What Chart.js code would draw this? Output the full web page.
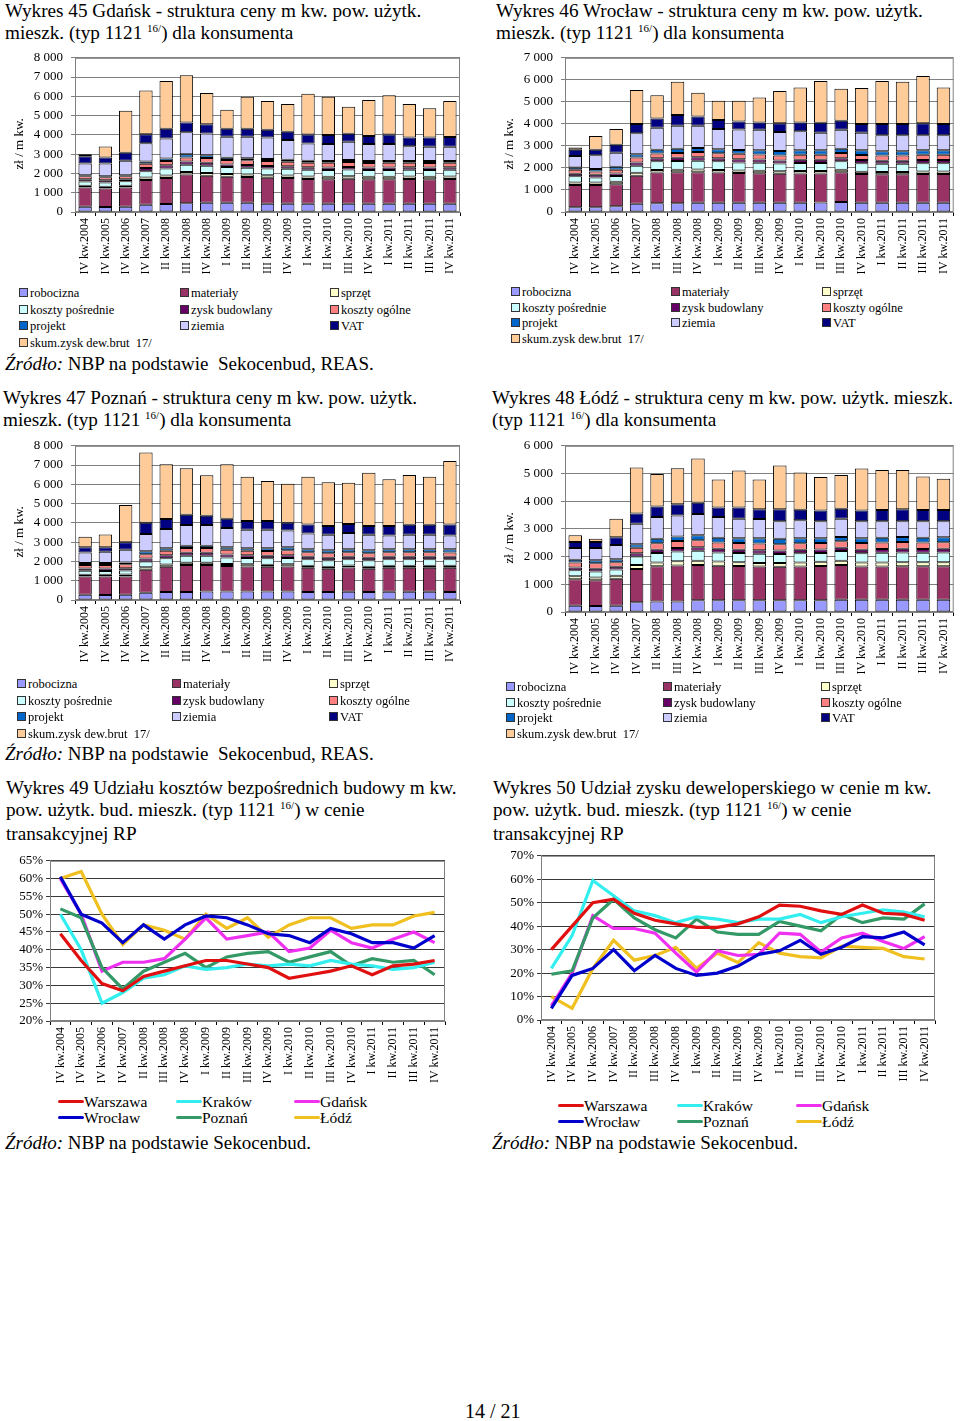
<!DOCTYPE html>
<html lang="pl">
<head>
<meta charset="utf-8">
<script src="https://cdn.jsdelivr.net/npm/chart.js@4/dist/chart.umd.min.js"></script>
<style>
body { margin:0; width:960px; height:1421px; background:#fff; position:relative; overflow:hidden;
       font-family:"Liberation Serif","Times New Roman",serif; color:#000; }
.abs { position:absolute; }
.title { font-size:19.2px; line-height:21.5px; white-space:nowrap; }
.title sup { font-size:11px; vertical-align:0; position:relative; top:-7px; }
.source { font-size:19px; white-space:nowrap; }
.legend { font-size:12.5px; white-space:nowrap; }
.legend .item { line-height:16px; }
.legend .sw { display:inline-block; width:7px; height:7px; border:1px solid #333; margin-right:2px; vertical-align:0; }
.llegend { font-size:15.5px; white-space:nowrap; }
.llegend .item { line-height:16px; }
.llegend .ln { display:inline-block; width:26px; height:3px; border-radius:1.5px; vertical-align:4px; }
canvas { position:absolute; }
</style>
</head>
<body>

<div class="abs title" style="left:5px;top:0px">Wykres 45 Gdańsk - struktura ceny m kw. pow. użytk.<br>mieszk. (typ 1121 <sup>16/</sup>) dla konsumenta</div>
<div class="abs title" style="left:496px;top:0px">Wykres 46 Wrocław - struktura ceny m kw. pow. użytk.<br>mieszk. (typ 1121 <sup>16/</sup>) dla konsumenta</div>
<div class="abs title" style="left:3px;top:387px">Wykres 47 Poznań - struktura ceny m kw. pow. użytk.<br>mieszk. (typ 1121 <sup>16/</sup>) dla konsumenta</div>
<div class="abs title" style="left:492px;top:387px">Wykres 48 Łódź - struktura ceny m kw. pow. użytk. mieszk.<br>(typ 1121 <sup>16/</sup>) dla konsumenta</div>
<div class="abs title" style="left:6px;top:777px">Wykres 49 Udziału kosztów bezpośrednich budowy m kw.<br>pow. użytk. bud. mieszk. (typ 1121 <sup>16/</sup>) w cenie<br>transakcyjnej RP</div>
<div class="abs title" style="left:493px;top:777px">Wykres 50 Udział zysku deweloperskiego w cenie m kw.<br>pow. użytk. bud. mieszk. (typ 1121 <sup>16/</sup>) w cenie<br>transakcyjnej RP</div>

<canvas id="c45" width="470" height="238" style="left:0px;top:42px"></canvas>
<canvas id="c46" width="470" height="238" style="left:490px;top:42px"></canvas>
<canvas id="c47" width="470" height="238" style="left:0px;top:430px"></canvas>
<canvas id="c48" width="470" height="250" style="left:490px;top:430px"></canvas>
<canvas id="c49" width="470" height="239" style="left:0px;top:850px"></canvas>
<canvas id="c50" width="470" height="243" style="left:490px;top:845px"></canvas>

<div class="abs source" style="left:5px;top:353px"><i>Źródło:</i> NBP na podstawie&nbsp; Sekocenbud, REAS.</div>
<div class="abs source" style="left:5px;top:743px"><i>Źródło:</i> NBP na podstawie&nbsp; Sekocenbud, REAS.</div>
<div class="abs source" style="left:5px;top:1132px"><i>Źródło:</i> NBP na podstawie Sekocenbud.</div>
<div class="abs source" style="left:492px;top:1132px"><i>Źródło:</i> NBP na podstawie Sekocenbud.</div>
<div class="abs source" style="left:465px;top:1400px;font-size:20px">14 / 21</div>

<script>
// categories (quarters)
const categories = ['IV kw.2004', 'IV kw.2005', 'IV kw.2006', 'IV kw.2007', 'II kw.2008', 'III kw.2008',
  'IV kw.2008', 'I kw.2009', 'II kw.2009', 'III kw.2009', 'IV kw.2009', 'I kw.2010', 'II kw.2010',
  'III kw.2010', 'IV kw.2010', 'I kw.2011', 'II kw.2011', 'III kw.2011', 'IV kw.2011'];

const costNames = ['robocizna', 'materiały', 'sprzęt', 'koszty pośrednie', 'zysk budowlany',
  'koszty ogólne', 'projekt', 'ziemia', 'VAT', 'skum.zysk dew.brut \u00a017/'];
const costColors = ['#9999FF', '#993366', '#FFFFCC', '#CCFFFF', '#660066',
  '#FF8080', '#0066CC', '#CCCCFF', '#000080', '#FFCC99'];

// Wykres 45 Gdańsk (zł / m kw.)
const gdRobocizna = [270,260,270,380,420,460,480,480,480,430,430,430,430,430,430,430,430,430,430];
const gdMaterialy = [1000,960,1000,1275,1350,1490,1400,1350,1330,1350,1340,1280,1270,1300,1270,1270,1280,1270,1280];
const gdSprzet = [90,90,90,135,130,120,140,140,130,130,130,130,130,130,130,130,130,130,130];
const gdKosztyPosr = [220,220,230,330,360,380,380,360,360,350,350,350,350,350,350,350,350,350,350];
const gdZysk = [120,120,110,165,160,165,160,140,140,130,130,130,130,130,130,130,130,130,130];
const gdKosztyOg = [150,150,150,215,220,215,240,230,240,250,230,240,240,250,230,240,230,230,230];
const gdProjekt = [60,60,60,115,140,170,150,120,110,110,100,100,100,110,100,100,100,100,100];
const gdZiemia = [600,650,750,950,1030,1140,1120,1090,1120,1110,1030,900,880,940,890,880,760,750,740];
const gdVat = [380,320,420,470,510,500,480,410,410,410,420,460,460,420,410,490,450,470,500];
const gdSkum = [110,570,2170,2270,2470,2450,1630,980,1660,1490,1440,2110,1990,1400,1870,2040,1740,1520,1870];

// Wykres 46 Wrocław
const wrRobocizna = [220,220,260,370,400,400,420,420,420,420,420,420,430,450,420,420,420,420,420];
const wrMaterialy = [1010,1010,1000,1280,1390,1400,1390,1370,1350,1340,1320,1330,1320,1350,1300,1290,1290,1310,1310];
const wrSprzet = [110,110,110,130,120,120,120,120,110,110,110,110,110,120,110,110,110,110,110];
const wrKosztyPosr = [280,230,260,320,390,390,400,390,370,370,350,370,370,380,380,370,370,370,370];
const wrZysk = [120,120,120,150,140,150,150,140,150,140,140,140,140,140,150,140,140,150,150];
const wrKosztyOg = [180,150,170,220,220,220,240,230,240,230,230,230,230,240,230,230,230,240,240];
const wrProjekt = [100,110,130,150,170,190,180,180,180,190,200,200,200,190,210,200,200,200,200];
const wrZiemia = [520,630,640,960,990,1050,1020,920,920,930,860,870,800,860,800,720,720,680,680];
const wrVat = [290,250,360,410,430,480,420,410,370,330,400,390,450,410,390,510,510,550,510];
const wrSkum = [100,620,720,1550,1050,1510,1070,870,940,1140,1460,1590,1900,1450,1640,1960,1920,2140,1660];

// Wykres 47 Poznań
const pzRobocizna = [270,260,270,370,420,420,440,440,440,440,440,420,420,430,420,430,430,430,420];
const pzMaterialy = [950,960,950,1200,1300,1400,1380,1320,1300,1280,1300,1250,1200,1250,1200,1240,1240,1240,1250];
const pzSprzet = [90,90,100,130,120,110,110,110,110,110,110,110,110,110,110,110,110,110,110];
const pzKosztyPosr = [210,200,210,300,330,370,370,340,330,330,330,330,330,330,330,330,330,330,330];
const pzZysk = [120,120,120,150,150,150,150,150,140,140,140,130,130,130,130,130,130,130,130];
const pzKosztyOg = [180,190,200,230,240,250,250,250,240,240,260,240,230,230,230,240,240,240,230];
const pzProjekt = [100,100,100,150,130,120,120,130,130,150,160,150,160,150,160,150,150,150,160];
const pzZiemia = [540,580,660,900,990,1070,1070,990,960,960,860,820,800,850,800,720,750,750,720];
const pzVat = [280,240,380,580,520,530,480,490,450,450,410,470,460,460,460,490,530,530,570];
const pzSkum = [540,660,1940,3640,2840,2410,2100,2820,2290,2070,2020,2470,2270,2140,2760,2430,2580,2490,3290];

// Wykres 48 Łódź
const ldRobocizna = [230,220,230,350,380,380,420,420,420,420,420,420,420,440,440,440,440,440,440];
const ldMaterialy = [950,930,970,1200,1270,1300,1280,1250,1240,1220,1210,1220,1240,1260,1200,1200,1210,1210,1210];
const ldSprzet = [110,100,110,150,140,150,150,150,140,130,140,150,150,150,150,150,150,150,150];
const ldKosztyPosr = [220,210,220,300,340,350,360,330,330,330,320,330,320,350,330,350,350,340,350];
const ldZysk = [100,100,100,120,120,130,130,130,120,130,130,130,130,120,130,130,130,130,130];
const ldKosztyOg = [180,200,170,200,230,250,250,230,240,240,230,230,230,230,240,240,250,240,240];
const ldProjekt = [100,110,100,130,160,170,180,170,170,190,190,180,170,160,170,170,180,170,180];
const ldZiemia = [420,440,520,740,790,750,770,750,710,700,640,650,620,660,620,600,570,600,580];
const ldVat = [220,220,280,370,380,410,400,340,400,350,430,380,380,360,380,400,430,400,400];
const ldSkum = [240,110,670,1660,1170,1300,1600,1010,1340,1070,1580,1350,1210,1220,1520,1450,1420,1210,1130];

// Wykres 49 udział kosztów bezpośrednich (%)
const w49Warszawa = [44.5,37,30.5,28.5,32.5,34,35.5,37,37,36,35,32,33,34,35.5,33,35.5,36,37];
const w49Wroclaw = [60.5,50,47.5,42,47,43,47,49.5,49,47,44.5,44,42,46,44.5,42,42,40.5,44];
const w49Krakow = [50,40,25,28,32,33,35.5,34.5,35,36,35.5,36,35.5,37,36,35.5,34.5,35,36.5];
const w49Poznan = [51.5,49,35,29,34,36.5,39,35,38,39,39.5,36.5,38,39.5,35.5,37.5,36.5,37,33];
const w49Gdansk = [60,50,34,36.5,36.5,37.5,43,49,43,44,45,39.5,40.5,45.5,42,40.5,43,45,42];
const w49Lodz = [60,62,50,41.5,47,45.5,43,50,46,49,43.5,47,49,49,46,47,47,49.5,50.5];

// Wykres 50 udział zysku deweloperskiego (%)
const w50Warszawa = [30,40,50,51.5,45.5,42.5,41,39.5,39.5,41,44,49,48.5,46.5,45,49,45.5,45,42.5];
const w50Wroclaw = [5,19,22,30,21,27.5,22,19,20,23,28,29.5,34,28,31,35.5,35,37.5,32];
const w50Krakow = [22,36,59.5,53,46.5,44.5,41.5,44,43,41.5,43,43,45,41.5,44,45.5,47,46,44];
const w50Poznan = [19.5,21,43.5,51.5,43.5,38.5,35,43,37.5,36.5,36.5,42,40,38,45,41.5,43.5,43,49.5];
const w50Gdansk = [6,20,44.5,39,39,37,28.5,20.5,29.5,27.5,28,37,36.5,29,35,37,33.5,30.5,35.5];
const w50Lodz = [10,5,22,34,25.5,27.5,31,22,28.5,24.5,33,28.5,27,26.5,31.5,31,30.5,27,26];

const cityNames = ['Warszawa', 'Wrocław', 'Kraków', 'Poznań', 'Gdańsk', 'Łódź'];
const cityColors = ['#E01010', '#0000CC', '#33EEEE', '#339966', '#F030F0', '#F0C020'];

const serif = '"Liberation Serif", "Times New Roman", serif';
Chart.defaults.font.family = serif;
Chart.defaults.color = '#000';

// gray frame around the plot area
const frame = {
  id: 'frame',
  beforeDatasetsDraw(chart) {
    const { ctx, chartArea: a } = chart;
    ctx.save();
    ctx.strokeStyle = '#808080';
    ctx.lineWidth = 1;
    ctx.strokeRect(a.left + 0.5, a.top + 0.5, a.right - a.left - 1, a.bottom - a.top - 1);
    ctx.restore();
  }
};

// y axis title, placed a bit below the middle as in the original
const yTitle = {
  id: 'yTitle',
  afterDraw(chart, args, opts) {
    if (!opts.text) return;
    const { ctx, chartArea: a } = chart;
    ctx.save();
    ctx.translate(20, (a.top + a.bottom) / 2 + 9);
    ctx.rotate(-Math.PI / 2);
    ctx.font = '13px ' + serif;
    ctx.fillStyle = '#000';
    ctx.textAlign = 'center';
    ctx.textBaseline = 'middle';
    ctx.fillText(opts.text, 0, 0);
    ctx.restore();
  }
};

function thousands(v) {
  return String(v).replace(/\B(?=(\d{3})+(?!\d))/g, ' ');
}

function xAxis() {
  return {
    offset: true,
    grid: { drawOnChartArea: false, offset: true, color: '#000', tickLength: 4 },
    border: { color: '#808080' },
    ticks: { minRotation: 90, maxRotation: 90, autoSkip: false, padding: 2, font: { size: 12 }, color: '#000' },
    afterFit: s => { s.height = 68; }
  };
}

function barChart(id, series, yMax, rightPad, topPad) {
  new Chart(document.getElementById(id), {
    type: 'bar',
    data: {
      labels: categories,
      datasets: series.map((d, i) => ({
        label: costNames[i], data: d, backgroundColor: costColors[i],
        borderColor: '#000', borderWidth: 1, borderSkipped: false,
        barPercentage: 0.66, categoryPercentage: 1
      }))
    },
    options: {
      responsive: false, animation: false,
      layout: { padding: { top: topPad, right: rightPad, left: 0, bottom: 0 } },
      plugins: { legend: { display: false }, tooltip: { enabled: false }, yTitle: { text: 'zł / m kw.' } },
      scales: {
        x: Object.assign(xAxis(), { stacked: true }),
        y: {
          stacked: true, min: 0, max: yMax,
          ticks: { stepSize: 1000, autoSkip: false, callback: thousands, font: { size: 13 }, color: '#000', padding: 8 },
          grid: { color: '#808080', tickLength: 4 },
          border: { color: '#808080' },
          afterFit: s => { s.width = 75; }
        }
      }
    },
    plugins: [frame, yTitle]
  });
}

function lineChart(id, series, yMin, yMax, step, yWidth, topPad) {
  new Chart(document.getElementById(id), {
    type: 'line',
    data: {
      labels: categories,
      datasets: series.map((d, i) => ({
        label: cityNames[i], data: d, borderColor: cityColors[i], backgroundColor: cityColors[i],
        borderWidth: 3.2, pointRadius: 0, tension: 0, fill: false
      }))
    },
    options: {
      responsive: false, animation: false,
      layout: { padding: { top: topPad, right: 25, left: 0, bottom: 0 } },
      plugins: { legend: { display: false }, tooltip: { enabled: false } },
      scales: {
        x: xAxis(),
        y: {
          min: yMin, max: yMax,
          ticks: { stepSize: step, autoSkip: false, callback: v => v + '%', font: { size: 13 }, color: '#000', padding: 3 },
          grid: { color: '#3a3a3a', tickLength: 4 },
          border: { color: '#808080' },
          afterFit: s => { s.width = yWidth; }
        }
      }
    },
    plugins: [frame]
  });
}

barChart('c45', [gdRobocizna, gdMaterialy, gdSprzet, gdKosztyPosr, gdZysk, gdKosztyOg, gdProjekt, gdZiemia, gdVat, gdSkum], 8000, 10, 8);
barChart('c46', [wrRobocizna, wrMaterialy, wrSprzet, wrKosztyPosr, wrZysk, wrKosztyOg, wrProjekt, wrZiemia, wrVat, wrSkum], 7000, 5, 8);
barChart('c47', [pzRobocizna, pzMaterialy, pzSprzet, pzKosztyPosr, pzZysk, pzKosztyOg, pzProjekt, pzZiemia, pzVat, pzSkum], 8000, 10, 8);
barChart('c48', [ldRobocizna, ldMaterialy, ldSprzet, ldKosztyPosr, ldZysk, ldKosztyOg, ldProjekt, ldZiemia, ldVat, ldSkum], 6000, 5, 9);
lineChart('c49', [w49Warszawa, w49Wroclaw, w49Krakow, w49Poznan, w49Gdansk, w49Lodz], 20, 65, 5, 50, 7);
lineChart('c50', [w50Warszawa, w50Wroclaw, w50Krakow, w50Poznan, w50Gdansk, w50Lodz], 0, 70, 10, 51, 6);

// html legends, laid out in three columns like the original
function costLegend(left, top, cols, rowH) {
  const box = document.createElement('div');
  box.className = 'abs legend';
  box.style.left = left + 'px';
  box.style.top = top + 'px';
  costNames.forEach((n, i) => {
    const item = document.createElement('div');
    item.className = 'abs item';
    item.style.left = cols[i % 3] + 'px';
    item.style.top = Math.round(Math.floor(i / 3) * rowH) + 'px';
    item.innerHTML = '<span class="sw" style="background:' + costColors[i] + '"></span>' + n;
    box.appendChild(item);
  });
  document.body.appendChild(box);
}

function cityLegend(left, top, cols, rowH) {
  const order = [0, 2, 4, 1, 3, 5];
  const box = document.createElement('div');
  box.className = 'abs llegend';
  box.style.left = left + 'px';
  box.style.top = top + 'px';
  order.forEach((k, i) => {
    const item = document.createElement('div');
    item.className = 'abs item';
    item.style.left = cols[i % 3] + 'px';
    item.style.top = Math.round(Math.floor(i / 3) * rowH) + 'px';
    item.innerHTML = '<span class="ln" style="background:' + cityColors[k] + '"></span>' + cityNames[k];
    box.appendChild(item);
  });
  document.body.appendChild(box);
}

costLegend(19, 285, [0, 161, 311], 16.7);
costLegend(511, 284, [0, 160, 311], 15.5);
costLegend(17, 676, [0, 155, 312], 16.7);
costLegend(506, 679, [0, 157, 315], 15.7);
cityLegend(58, 1094, [0, 118, 236], 15.5);
cityLegend(558, 1098, [0, 119, 238], 15.5);
</script>
</body>
</html>
